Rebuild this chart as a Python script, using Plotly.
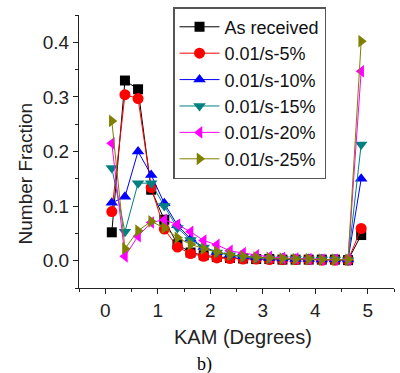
import plotly.graph_objects as go

kam = [0.125, 0.375, 0.625, 0.875, 1.125, 1.375, 1.625, 1.875, 2.125, 2.375,
       2.625, 2.875, 3.125, 3.375, 3.625, 3.875, 4.125, 4.375, 4.625, 4.875]

as_received = [0.052, 0.330, 0.314, 0.130, 0.075, 0.030, 0.015, 0.010, 0.007, 0.005,
               0.004, 0.003, 0.003, 0.002, 0.002, 0.002, 0.002, 0.002, 0.001, 0.047]
s5 = [0.090, 0.304, 0.297, 0.134, 0.058, 0.025, 0.013, 0.008, 0.005, 0.004,
      0.003, 0.003, 0.002, 0.002, 0.002, 0.002, 0.001, 0.001, 0.001, 0.059]
s10 = [0.106, 0.117, 0.200, 0.157, 0.105, 0.065, 0.040, 0.025, 0.016, 0.011,
       0.008, 0.006, 0.005, 0.004, 0.003, 0.003, 0.002, 0.002, 0.002, 0.150]
s15 = [0.170, 0.053, 0.142, 0.142, 0.100, 0.060, 0.038, 0.024, 0.015, 0.010,
       0.007, 0.005, 0.004, 0.003, 0.003, 0.002, 0.002, 0.002, 0.001, 0.213]
s20 = [0.215, 0.008, 0.045, 0.070, 0.075, 0.066, 0.053, 0.037, 0.029, 0.018,
       0.014, 0.010, 0.007, 0.005, 0.004, 0.003, 0.002, 0.002, 0.002, 0.347]
s25 = [0.256, 0.022, 0.055, 0.072, 0.060, 0.042, 0.030, 0.022, 0.016, 0.011,
       0.008, 0.006, 0.005, 0.004, 0.003, 0.003, 0.002, 0.002, 0.002, 0.402]

names = ["As received", "0.01/s-5%", "0.01/s-10%", "0.01/s-15%", "0.01/s-20%", "0.01/s-25%"]
series = [as_received, s5, s10, s15, s20, s25]
colors = ["#000000", "#FF0000", "#0000FF", "#008080", "#FF00FF", "#808000"]
symbols = ["square", "circle", "triangle-up", "triangle-down", "triangle-left", "triangle-right"]
sizes = [10, 11, 11, 11, 11, 11]

fig = go.Figure()
for name, ys, c, s, sz in zip(names, series, colors, symbols, sizes):
    fig.add_trace(go.Scatter(
        x=kam, y=ys, name=name, mode="lines+markers",
        line=dict(color=c, width=1),
        marker=dict(symbol=s, color=c, size=sz, line=dict(width=0)),
    ))

font = "Liberation Sans, Arial, sans-serif"
fig.update_layout(
    width=400, height=373,
    margin=dict(l=79, r=6, t=15, b=85),
    paper_bgcolor="white", plot_bgcolor="white",
    font=dict(family=font, size=19, color="#222"),
    showlegend=True,
    legend=dict(x=0.2985, y=1.029, xanchor="left", yanchor="top",
                bordercolor="#555", borderwidth=1.5, bgcolor="white",
                itemwidth=40,
                font=dict(size=18, color="#111"), tracegroupgap=0),
    xaxis=dict(range=[-0.5, 5.5], showline=True, linecolor="#222", linewidth=1,
               ticks="outside", ticklen=5, tickcolor="#222", dtick=1, tick0=0,
               showgrid=False, zeroline=False, mirror=False,
               minor=dict(ticks="outside", ticklen=3, dtick=0.5, tick0=0, tickcolor="#222", showgrid=False)),
    yaxis=dict(range=[-0.05, 0.45], showline=True, linecolor="#222", linewidth=1,
               ticks="outside", ticklen=5, tickcolor="#222", dtick=0.1, tick0=0,
               tickformat=".1f", showgrid=False, zeroline=False, mirror=False,
               minor=dict(ticks="outside", ticklen=3, dtick=0.05, tick0=0, tickcolor="#222", showgrid=False)),
    annotations=[
        dict(text="Number Fraction", xref="paper", yref="paper", x=-0.171, y=0.42,
             textangle=-90, showarrow=False, font=dict(size=19), xanchor="center", yanchor="middle"),
        dict(text="KAM (Degrees)", xref="paper", yref="paper", x=0.52, y=-0.179,
             showarrow=False, font=dict(size=20), xanchor="center", yanchor="middle"),
        dict(text="b)", xref="paper", yref="paper", x=0.397, y=-0.282,
             showarrow=False, font=dict(size=18, family="Liberation Serif, Times New Roman, serif", color="#000"),
             xanchor="center", yanchor="middle"),
    ],
)
fig.write_html("out.html")
